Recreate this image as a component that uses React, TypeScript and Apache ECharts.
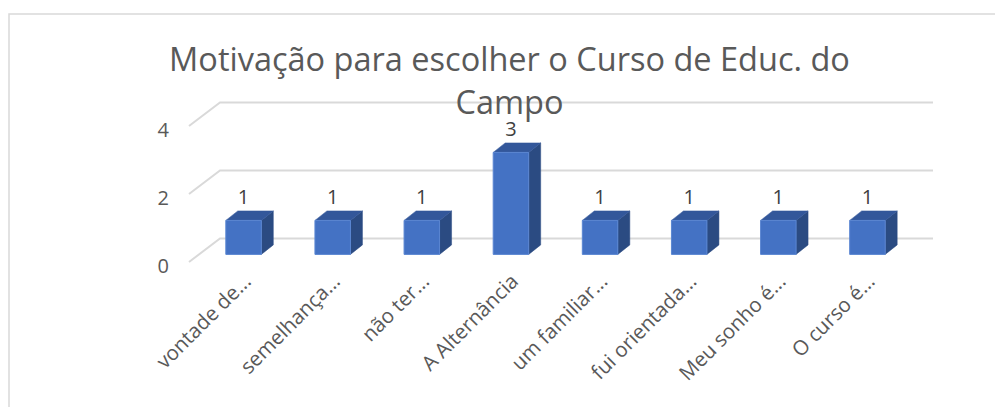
import React, { useEffect, useRef } from 'react';
import * as echarts from 'echarts';

const titleText = 'Motivação para escolher o Curso de Educ. do\nCampo';
const categories = [
  'vontade de...',
  'semelhança...',
  'não ter...',
  'A Alternância',
  'um familiar...',
  'fui orientada...',
  'Meu sonho é...',
  'O curso é...',
];
const values = [1, 1, 1, 3, 1, 1, 1, 1];
const yMin = 0;
const yMax = 4;
const yInterval = 2;
const gridValues = [0, 2, 4];

export default function App() {
  const ref = useRef<HTMLDivElement>(null);

  useEffect(() => {
    const chart = echarts.init(ref.current!, null, { renderer: 'svg' });

    const L = 189, T = 126, W = 713, H = 136;
    const DX = 31, DY = -23.5; // floor depth (front plane -> back wall)
    const BDX = 10, BDY = -7.6; // bar front face offset from front plane
    const SDX = 12, SDY = -9.5; // bar depth
    const BW = 35.5;
    const font = '"Open Sans", "DejaVu Sans", sans-serif';

    const hiddenCat = (gridIndex: number, show = false, extra: any = {}) => ({
      type: 'category',
      gridIndex,
      data: categories,
      boundaryGap: true,
      axisLine: { show: false },
      axisTick: { show: false },
      axisLabel: { show },
      splitLine: { show: false },
      ...extra,
    });
    const valAxis = (gridIndex: number, show = false, extra: any = {}) => ({
      type: 'value',
      gridIndex,
      min: yMin,
      max: yMax,
      interval: yInterval,
      axisLine: { show: false },
      axisTick: { show: false },
      axisLabel: { show },
      splitLine: { show: false },
      ...extra,
    });

    chart.setOption({
      animation: false,
      backgroundColor: '#ffffff',
      graphic: [
        {
          type: 'rect',
          shape: { x: 9, y: 14, width: 1000, height: 400 },
          style: { fill: 'none', stroke: '#D9D9D9', lineWidth: 1.5 },
          z: 0,
        },
        {
          type: 'text',
          x: 509.5,
          y: 37,
          z: 100,
          style: {
            text: titleText,
            align: 'center',
            verticalAlign: 'top',
            fontSize: 32.5,
            fontFamily: font,
            lineHeight: 43,
            fill: '#595959',
          },
        },
      ],
      grid: [
        { left: L, top: T, width: W, height: H },
        { left: L, top: T + 3.5, width: W, height: H },
        { left: L + 13, top: T, width: W, height: H },
      ],
      xAxis: [
        hiddenCat(0),
        hiddenCat(1),
        hiddenCat(2, true, {
          axisLabel: {
            show: true,
            rotate: 45,
            margin: 15,
            interval: 0,
            color: '#595959',
            fontSize: 20.5,
            fontFamily: font,
          },
        }),
      ],
      yAxis: [
        valAxis(0),
        valAxis(1, true, {
          axisLabel: {
            show: true,
            margin: 20,
            color: '#595959',
            fontSize: 20,
            fontFamily: font,
          },
        }),
        valAxis(2),
      ],
      series: [
        {
          type: 'custom',
          xAxisIndex: 0,
          yAxisIndex: 0,
          z: 1,
          silent: true,
          data: gridValues.map((v) => [0, v]),
          renderItem: (params: any, api: any) => {
            const p = api.coord([0, api.value(1)]);
            const band = api.size([1, 0])[0];
            const left = p[0] - band / 2;
            const right = left + band * categories.length;
            const y = p[1];
            return {
              type: 'polyline',
              shape: {
                points: [
                  [left, y],
                  [left + DX, y + DY],
                  [right + DX, y + DY],
                ],
              },
              style: { stroke: '#D9D9D9', lineWidth: 2, fill: 'none' },
            };
          },
        },
        {
          type: 'custom',
          xAxisIndex: 0,
          yAxisIndex: 0,
          z: 2,
          data: values.map((v, i) => [i, v]),
          renderItem: (params: any, api: any) => {
            const i = api.value(0);
            const v = api.value(1);
            const c = api.coord([i, v]);
            const b = api.coord([i, 0]);
            const cx = c[0] + BDX;
            const top = c[1] + BDY;
            const bottom = b[1] + BDY;
            const x0 = cx - BW / 2;
            const x1 = cx + BW / 2;
            return {
              type: 'group',
              children: [
                {
                  type: 'polygon',
                  shape: {
                    points: [
                      [x1, top],
                      [x1 + SDX, top + SDY],
                      [x1 + SDX, bottom + SDY],
                      [x1, bottom],
                    ],
                  },
                  style: { fill: '#2B4B82', stroke: '#2B4B82', lineWidth: 0.5 },
                },
                {
                  type: 'polygon',
                  shape: {
                    points: [
                      [x0, top],
                      [x0 + SDX, top + SDY],
                      [x1 + SDX, top + SDY],
                      [x1, top],
                    ],
                  },
                  style: { fill: '#33579A', stroke: '#33579A', lineWidth: 0.5 },
                },
                {
                  type: 'rect',
                  shape: { x: x0, y: top, width: BW, height: bottom - top },
                  style: { fill: '#4472C4', stroke: '#5A86D2', lineWidth: 1 },
                },
                {
                  type: 'text',
                  x: cx,
                  y: top - 24.4,
                  style: {
                    text: String(v),
                    align: 'center',
                    verticalAlign: 'middle',
                    fontSize: 20,
                    fontFamily: font,
                    fill: '#404040',
                  },
                },
              ],
            };
          },
        },
      ],
    });

    return () => chart.dispose();
  }, []);

  return (
    <div
      ref={ref}
      style={{ position: 'absolute', left: 0, top: 0, width: 995, height: 407 }}
    />
  );
}
